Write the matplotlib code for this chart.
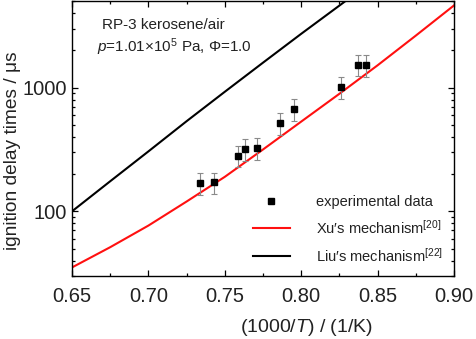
import matplotlib
matplotlib.use("Agg")
import matplotlib.pyplot as plt
from matplotlib.ticker import FixedLocator, LogLocator, NullFormatter, MultipleLocator, FormatStrFormatter

plt.rcParams['font.family'] = ['Liberation Sans', 'DejaVu Sans']
plt.rcParams['mathtext.fontset'] = 'custom'
plt.rcParams['mathtext.rm'] = 'Liberation Sans'
plt.rcParams['mathtext.it'] = 'Liberation Sans:italic'

# ── data ──────────────────────────────────────────────────────────────────────
exp_x = [0.734, 0.7427, 0.7585, 0.7629, 0.7712, 0.786, 0.7952, 0.8259, 0.8372, 0.8423]
exp_tau = [170, 171, 282, 318, 324, 515, 670, 1013, 1536, 1527]
exp_err = [34, 34, 56, 64, 65, 103, 134, 203, 307, 305]

xu_x = [0.65, 0.675, 0.70, 0.725, 0.75, 0.775, 0.80, 0.825, 0.85, 0.875, 0.90]
xu_tau = [35.2, 51.3, 76.7, 120, 190, 316, 531, 891, 1514, 2630, 4613]

liu_x = [0.65, 0.675, 0.70, 0.725, 0.75, 0.775, 0.80, 0.825, 0.85]
liu_tau = [100, 175, 305, 535, 925, 1590, 2720, 4600, 7800]

TEXT = '#222222'

fig = plt.figure(figsize=(4.76, 3.39), dpi=100)
ax = fig.add_axes([0.1513, 0.1858, 0.8025, 0.811])

ax.errorbar(exp_x, exp_tau, yerr=exp_err, fmt='none', ecolor='#8a8a8a',
            elinewidth=0.8, capsize=2.4, capthick=0.8, zorder=3)
ax.plot(exp_x, exp_tau, ls='none', marker='s', ms=4.3, color='black',
        label='experimental data', zorder=4)
ax.plot(xu_x, xu_tau, color='#ff1010', lw=1.5, label='Xu\u2032s mechanism$^{\\mathregular{[20]}}$')
ax.plot(liu_x, liu_tau, color='black', lw=1.5, label='Liu\u2032s mechanism$^{\\mathregular{[22]}}$')

ax.set_yscale('log')
ax.set_xlim(0.65, 0.90)
ax.set_ylim(30, 5000)

ax.xaxis.set_major_locator(MultipleLocator(0.05))
ax.xaxis.set_minor_locator(MultipleLocator(0.025))
ax.xaxis.set_major_formatter(FormatStrFormatter('%.2f'))
ax.yaxis.set_major_locator(FixedLocator([100, 1000]))
ax.yaxis.set_major_formatter(FormatStrFormatter('%d'))
ax.yaxis.set_minor_locator(LogLocator(base=10, subs=range(2, 10)))
ax.yaxis.set_minor_formatter(NullFormatter())

ax.tick_params(which='both', direction='in', top=True, right=True, width=0.9, colors='black')
ax.tick_params(which='major', length=4.3)
ax.tick_params(which='minor', length=2.5)
ax.tick_params(axis='x', which='major', pad=8, labelsize=14.5, labelcolor=TEXT)
ax.tick_params(axis='y', which='major', pad=3.5, labelsize=14.5, labelcolor=TEXT)
for s in ax.spines.values():
    s.set_linewidth(1.0)

ax.set_xlabel('(1000/$\\mathit{T}$) / (1/K)', fontsize=14, color=TEXT)
ax.xaxis.set_label_coords(0.613, -0.15)
ax.set_ylabel('ignition delay times / \u03bcs', fontsize=13.8, color=TEXT)
ax.yaxis.set_label_coords(-0.1325, 0.455)

ax.text(0.078, 0.913, 'RP-3 kerosene/air', transform=ax.transAxes, fontsize=11,
        color=TEXT, va='center', ha='left')
ax.text(0.065, 0.833, '$\\mathit{p}$=1.01\u00d710$^{\\mathregular{5}}$ Pa, $\\mathit{\u03a6}$=1.0',
        transform=ax.transAxes, fontsize=11, color=TEXT, va='center', ha='left')

ax.legend(loc='lower right', bbox_to_anchor=(1.005, -0.005), frameon=False, fontsize=10.5,
          handlelength=2.5, handletextpad=1.8, labelspacing=0.68, labelcolor=TEXT)

fig.savefig('out.png', dpi=100)
